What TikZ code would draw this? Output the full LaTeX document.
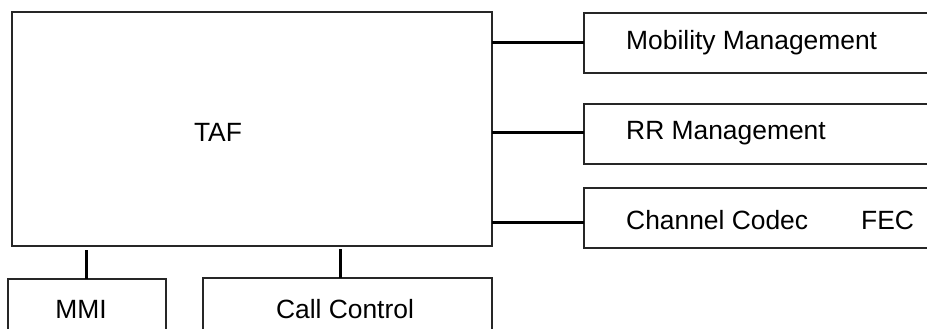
\documentclass[tikz,border=0pt]{standalone}
\usepackage{fontspec}
\setmainfont{Liberation Sans}
\begin{document}
\begin{tikzpicture}[x=1pt,y=-1pt,
  blk/.style={draw=black!85,line width=1.6pt},
  lnk/.style={draw=black,line width=3pt},
  lbl/.style={inner sep=0pt,font=\fontsize{26.4}{30}\selectfont}]
\useasboundingbox (0,0) rectangle (927,329);
\begin{scope}
\clip (0,0) rectangle (927,329);
\draw[blk] (12,12) rectangle (492,246);
\coordinate (tafMM) at (492,43);
\coordinate (tafRR) at (492,132);
\coordinate (tafCC) at (492,222);
\coordinate (tafMMI) at (86,250);
\coordinate (tafCall) at (340,249);
\draw[blk] (584,13) rectangle (940,73);
\draw[blk] (584,104) rectangle (940,164);
\draw[blk] (584,188) rectangle (940,248);
\draw[blk] (8,279) rectangle (166,345);
\draw[blk] (203,278) rectangle (492,345);
\coordinate (mmL) at (584,43);
\coordinate (rrL) at (584,132);
\coordinate (ccL) at (584,222);
\coordinate (mmiT) at (86,279);
\coordinate (callT) at (340,278);
\draw[lnk] (tafMM) -- (mmL);
\draw[lnk] (tafRR) -- (rrL);
\draw[lnk] (tafCC) -- (ccL);
\draw[lnk] (tafMMI) -- (mmiT);
\draw[lnk] (tafCall) -- (callT);
\end{scope}
\node[lbl] (taf) at (218,132) {TAF};
\node[lbl,anchor=west] (mm) at (626,43) {Mobility Management};
\node[lbl,anchor=west] (rr) at (626,133) {RR Management};
\node[lbl,anchor=west] (cc) at (626,220) {Channel Codec};
\node[lbl,anchor=west] (fec) at (861,220) {FEC};
\node[lbl] (mmi) at (81,309) {MMI};
\node[lbl] (call) at (345,309) {Call Control};
\end{tikzpicture}
\end{document}
